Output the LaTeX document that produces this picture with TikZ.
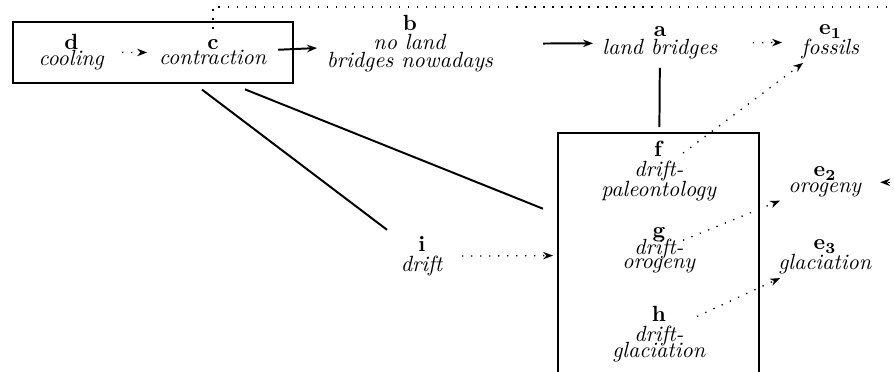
\documentclass[tikz,border=0pt]{standalone}
\usetikzlibrary{arrows.meta,calc}
\begin{document}
\begin{tikzpicture}[x=0.4545pt,y=-0.4545pt,
  lbl/.style={align=center,inner sep=0pt,font={\setlength{\baselineskip}{8.3pt}\setlength{\lineskiplimit}{-20pt}}},
  boxnode/.style={draw,line width=1.1pt,inner sep=0pt},
  tipstyle/.style={-{Stealth[length=4.5pt,width=3.4pt]}},
  solidcon/.style={line width=0.9pt,tipstyle},
  plaincon/.style={line width=0.9pt},
  dotcon/.style={line width=0.6pt,dash pattern=on 0.6pt off 3.5pt,tipstyle}]
\useasboundingbox (0,0) rectangle (895,372);
\clip (0,0) rectangle (895,372);
% boxes
\node[boxnode, minimum width=127.3pt, minimum height=27.7pt] (outer) at (153,52.5) {};
\node[boxnode, minimum width=91.4pt, minimum height=110.9pt] (big) at (658.5,255) {};
% labels
\node[lbl] (d) at (71.5,52.3) {\textbf{d}\\[-1.2pt]\textit{cooling}};
\node[lbl] (c) at (213,52.6) {\textbf{c}\\[-1.5pt]\textit{contraction}};
\node[lbl] (b) at (410,44) {\textbf{b}\\[0.3pt]\textit{no land}\\\textit{bridges nowadays}};
\node[lbl] (a) at (660,43.1) {\textbf{a}\\\textit{land bridges}};
\node[lbl] (e1) at (830.5,42.3) {$\mathbf{e_1}$\\[0.8pt]\textit{fossils}};
\node[lbl] (f) at (659,171.2) {\textbf{f}\\[0.8pt]\textit{drift-}\\[0.8pt]\textit{paleontology}};
\node[lbl] (g) at (659,250.1) {\textbf{g}\\[-0.4pt]\textit{drift-}\\[-1.9pt]\textit{orogeny}};
\node[lbl] (h) at (659,334) {\textbf{h}\\[1pt]\textit{drift-}\\[-0.9pt]\textit{glaciation}};
\node[lbl] (i) at (422,256.3) {\textbf{i}\\[0.8pt]\textit{drift}};
\node[lbl] (e2) at (825,182.3) {$\mathbf{e_2}$\\[-1pt]\textit{orogeny}};
\node[lbl] (e3) at (825,257.3) {$\mathbf{e_3}$\\[0.8pt]\textit{glaciation}};
% connectors
\draw[dotcon] ($(d)!0.357!(c)$) -- ($(d)!0.534!(c)$);
\draw[solidcon] ($(c)!0.33!(b)$) -- ($(c)!0.528!(b)$);
\draw[solidcon] ($(b)!0.532!(a)$) -- ($(b)!0.732!(a)$);
\draw[dotcon] ($(a)!0.545!(e1)$) -- ($(a)!0.716!(e1)$);
\draw[plaincon] ($(outer)!0.182!(i)$) -- ($(outer)!0.87!(i)$);
\draw[plaincon] ($(outer)!0.182!(big)$) -- ($(outer)!0.7715!(big)$);
\draw[plaincon] ($(a)!0.1175!(big)$) -- ($(a)!0.396!(big)$);
\draw[dotcon] ($(i)!0.169!(big)$) -- ($(i)!0.554!(big)$);
\draw[dotcon] ($(f)!0.14!(e1)$) -- ($(f)!0.84!(e1)$);
\draw[dotcon] ($(g)!0.1446!(e2)$) -- ($(g)!0.729!(e2)$);
\draw[dotcon] ($(h)!0.229!(e3)$) -- ($(h)!0.729!(e3)$);
\coordinate (loopcorner) at (940,7);
\draw[dotcon] ([yshift=5pt]c.north) |- (loopcorner) |- ([xshift=8.2pt]e2.east);
\end{tikzpicture}
\end{document}
